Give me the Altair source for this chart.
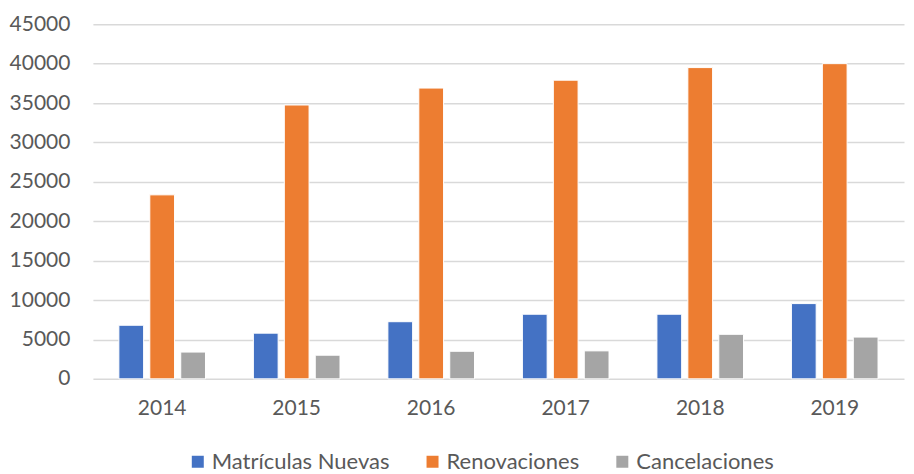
import altair as alt
import pandas as pd

years = ["2014", "2015", "2016", "2017", "2018", "2019"]
series = ["Matrículas Nuevas", "Renovaciones", "Cancelaciones"]
nuevas = [6800, 5800, 7250, 8200, 8200, 9550]
renovaciones = [23350, 34750, 36900, 37900, 39500, 40000]
cancelaciones = [3400, 3000, 3500, 3550, 5650, 5300]
colors = ["#4472C4", "#ED7D31", "#A5A5A5"]
y_ticks = [0, 5000, 10000, 15000, 20000, 25000, 30000, 35000, 40000, 45000]

rows = []
for name, vals in zip(series, [nuevas, renovaciones, cancelaciones]):
    for yr, v in zip(years, vals):
        rows.append({"Año": yr, "Serie": name, "Valor": v})
df = pd.DataFrame(rows)

FONT = "Lato"
TXT = "#595959"

chart = alt.Chart(df).mark_bar(stroke="white", strokeWidth=1).encode(
    x=alt.X("Año:N", sort=years, title=None,
            scale=alt.Scale(paddingInner=0.31, paddingOuter=0.17),
            axis=alt.Axis(labelAngle=0, labelFont=FONT, labelFontSize=21,
                          labelColor=TXT, labelPadding=19, ticks=False,
                          domain=False, grid=False)),
    xOffset=alt.XOffset("Serie:N", sort=series,
                        scale=alt.Scale(paddingInner=0.2, paddingOuter=0.1)),
    y=alt.Y("Valor:Q", title=None,
            scale=alt.Scale(domain=[0, 45000], nice=False),
            axis=alt.Axis(values=y_ticks, labelFont=FONT, labelFontSize=21,
                          labelColor=TXT, labelPadding=23, ticks=False,
                          domain=False, grid=True, gridColor="#D9D9D9",
                          gridWidth=1.5, format="d")),
    color=alt.Color("Serie:N", sort=series,
                    scale=alt.Scale(domain=series, range=colors),
                    legend=alt.Legend(title=None, orient="none", direction="horizontal",
                                      legendX=94, legendY=427, padding=0,
                                      symbolType="square", symbolSize=144,
                                      symbolStrokeWidth=0, labelFont=FONT,
                                      labelFontSize=22, labelColor=TXT,
                                      labelLimit=400,
                                      labelOffset=3, columnPadding=32)),
).properties(
    width=812, height=355,
    autosize=alt.AutoSizeParams(type="none"),
    padding={"left": 85, "top": 16, "right": 2, "bottom": 95},
).configure_view(stroke=None)

chart.save("out.html", embed_options={"renderer": "svg", "actions": False})
